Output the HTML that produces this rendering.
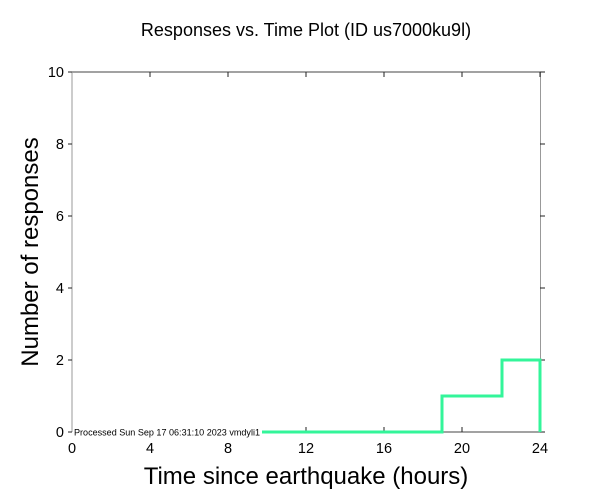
<!DOCTYPE html>
<html><head><style>body{margin:0;background:#fff}svg{display:block}</style></head><body>
<svg width="612" height="504" xmlns="http://www.w3.org/2000/svg" font-family="Liberation Sans, sans-serif">
<rect width="612" height="504" fill="#fff"/>
<text x="306" y="36" font-size="18" text-anchor="middle">Responses vs. Time Plot (ID us7000ku9l)</text>
<line x1="72" y1="72" x2="540" y2="72" stroke="#444" stroke-width="1"/>
<line x1="72" y1="72" x2="72" y2="432" stroke="#999" stroke-width="1"/>
<line x1="540.5" y1="72" x2="540.5" y2="432" stroke="#999" stroke-width="1"/>
<line x1="262" y1="432" x2="540" y2="432" stroke="#444" stroke-width="1"/>
<g stroke="#222" stroke-width="1">
<line x1="150" y1="72" x2="150" y2="77"/><line x1="228" y1="72" x2="228" y2="77"/><line x1="306" y1="72" x2="306" y2="77"/><line x1="384" y1="72" x2="384" y2="77"/><line x1="462" y1="72" x2="462" y2="77"/><line x1="540" y1="72" x2="540" y2="77"/>
<line x1="306" y1="432" x2="306" y2="427"/><line x1="384" y1="432" x2="384" y2="427"/><line x1="462" y1="432" x2="462" y2="427"/>
<line x1="68" y1="72" x2="72" y2="72"/><line x1="68" y1="144" x2="72" y2="144"/><line x1="68" y1="216" x2="72" y2="216"/><line x1="68" y1="288" x2="72" y2="288"/><line x1="68" y1="360" x2="72" y2="360"/><line x1="68" y1="432" x2="72" y2="432"/>
<line x1="540" y1="72" x2="545" y2="72"/><line x1="540" y1="144" x2="545" y2="144"/><line x1="540" y1="216" x2="545" y2="216"/><line x1="540" y1="288" x2="545" y2="288"/><line x1="540" y1="360" x2="545" y2="360"/><line x1="540" y1="432" x2="545" y2="432"/>
</g>
<polyline points="262,432 442,432 442,396 502,396 502,360 540,360 540,432" fill="none" stroke="#33f59a" stroke-width="3"/>
<text x="74" y="435.5" font-size="9.5" textLength="186" lengthAdjust="spacingAndGlyphs">Processed Sun Sep 17 06:31:10 2023 vmdyli1</text>
<g font-size="14.5" text-anchor="end">
<text x="64" y="77">10</text><text x="64" y="149">8</text><text x="64" y="221">6</text><text x="64" y="293">4</text><text x="64" y="365">2</text><text x="64" y="437">0</text>
</g>
<g font-size="14.5" text-anchor="middle">
<text x="72" y="453">0</text><text x="150" y="453">4</text><text x="228" y="453">8</text><text x="306" y="453">12</text><text x="384" y="453">16</text><text x="462" y="453">20</text><text x="540" y="453">24</text>
</g>
<text x="306" y="484" font-size="24" text-anchor="middle">Time since earthquake (hours)</text>
<text transform="translate(38,252) rotate(-90)" font-size="24" text-anchor="middle">Number of responses</text>
</svg>
</body></html>
